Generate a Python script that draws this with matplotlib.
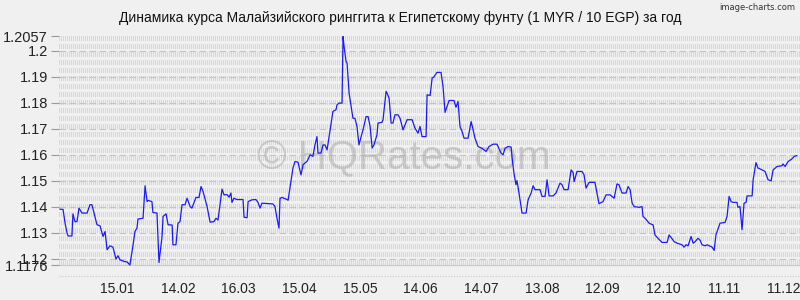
import datetime as dt
import matplotlib
matplotlib.use("Agg")
import matplotlib.pyplot as plt
from matplotlib.collections import LineCollection

# ---------------- data ----------------
start_date = dt.date(2018, 12, 17)
days = [0.5, 2.0, 3.0, 4.0, 4.5, 6.4, 6.9, 7.9, 8.9, 9.9, 11.4, 13.9, 15.3, 16.3, 18.8, 20.3,
        21.8, 22.8, 23.8, 25.2, 26.7, 28.2, 29.2, 30.2, 32.2, 33.7, 35.1, 36.6, 37.6, 38.6,
        39.1, 41.6, 42.6, 43.6, 44.1, 46.0, 46.5, 48.5, 49.5, 51.0, 51.5, 53.0, 54.0, 56.0,
        56.4, 57.9, 58.9, 59.9, 60.9, 62.4, 63.4, 64.9, 65.8, 67.8, 69.3, 70.3, 71.3, 73.3,
        74.8, 76.7, 77.7, 78.7, 80.7, 81.7, 83.2, 84.2, 85.1, 85.6, 86.6, 88.1, 91.1, 91.6,
        93.1, 93.6, 95.5, 97.5, 98.5, 99.5, 100.5, 105.9, 106.9, 107.9, 108.9, 109.4, 110.4,
        112.9, 113.4, 114.9, 115.8, 116.8, 118.3, 119.8, 120.8, 122.8, 124.3, 125.7, 126.7,
        127.7, 128.2, 129.7, 130.7, 131.7, 132.7, 133.2, 134.7, 135.6, 137.1, 137.6, 138.6,
        140.1, 140.6, 141.1, 142.1, 142.6, 143.6, 144.6, 145.5, 146.5, 147.5, 148.5, 150.0,
        150.5, 152.0, 153.0, 154.0, 155.0, 155.9, 157.4, 157.9, 159.9, 160.4, 161.9, 162.4,
        163.4, 164.4, 165.3, 166.3, 167.8, 168.8, 170.3, 172.3, 174.8, 176.2, 177.7, 178.7,
        179.7, 181.7, 182.2, 183.7, 184.7, 185.6, 187.1, 189.1, 190.1, 191.1, 192.1, 193.1,
        195.5, 196.5, 197.5, 198.5, 199.5, 200.5, 202.5, 204.0, 205.0, 205.9, 207.4, 209.4,
        211.4, 212.9, 214.9, 216.8, 218.8, 219.8, 220.8, 222.3, 223.8, 224.3, 225.2, 226.2,
        226.7, 227.7, 229.2, 231.2, 232.2, 233.7, 234.7, 235.6, 238.1, 239.1, 240.6, 241.6,
        242.6, 244.6, 246.0, 248.0, 249.0, 250.0, 252.0, 253.5, 254.5, 255.0, 256.4, 258.9,
        259.9, 260.9, 262.4, 265.3, 266.3, 267.3, 269.3, 270.8, 272.8, 274.8, 276.2, 277.2,
        278.7, 280.7, 281.7, 282.7, 283.7, 284.7, 287.1, 288.6, 289.1, 290.6, 292.1, 294.1,
        295.0, 296.5, 298.5, 301.0, 302.0, 303.5, 304.5, 306.0, 308.4, 309.4, 310.4, 311.4,
        312.9, 313.9, 314.9, 316.3, 317.3, 318.3, 319.8, 320.8, 323.3, 324.3, 325.2, 326.2,
        327.2, 329.7, 330.7, 331.7, 332.7, 333.7, 335.6, 336.1, 337.1, 338.1, 339.1, 340.1,
        340.6, 343.1, 343.6, 345.0, 346.0, 347.0, 348.0, 349.5, 351.0, 352.5, 353.5, 355.4,
        357.9, 358.4, 359.4, 360.9, 362.9, 363.9, 365.3]
rates = [1.1391, 1.1390, 1.1337, 1.1299, 1.1288, 1.1288, 1.1373, 1.1343, 1.1343, 1.1395,
         1.1376, 1.1376, 1.1408, 1.1408, 1.1331, 1.1327, 1.1286, 1.1305, 1.1235, 1.1250,
         1.1245, 1.1199, 1.1212, 1.1196, 1.1190, 1.1188, 1.1176, 1.1250, 1.1305, 1.1318,
         1.1353, 1.1356, 1.1481, 1.1420, 1.1425, 1.1420, 1.1378, 1.1376, 1.1186, 1.1286,
         1.1363, 1.1373, 1.1331, 1.1330, 1.1254, 1.1254, 1.1337, 1.1343, 1.1408, 1.1408,
         1.1433, 1.1401, 1.1395, 1.1436, 1.1436, 1.1478, 1.1459, 1.1401, 1.1341, 1.1343,
         1.1356, 1.1349, 1.1468, 1.1446, 1.1447, 1.1437, 1.1453, 1.1417, 1.1433, 1.1428,
         1.1428, 1.1360, 1.1358, 1.1420, 1.1427, 1.1428, 1.1417, 1.1395, 1.1414, 1.1411,
         1.1401, 1.1356, 1.1318, 1.1433, 1.1436, 1.1428, 1.1425, 1.1504, 1.1549, 1.1574,
         1.1572, 1.1523, 1.1562, 1.1575, 1.1600, 1.1594, 1.1638, 1.1670, 1.1607, 1.1607,
         1.1638, 1.1638, 1.1619, 1.1645, 1.1722, 1.1767, 1.1773, 1.1792, 1.1799, 1.1799,
         1.2055, 1.2017, 1.1959, 1.1952, 1.1837, 1.1786, 1.1741, 1.1740, 1.1709, 1.1638,
         1.1683, 1.1696, 1.1747, 1.1747, 1.1709, 1.1626, 1.1638, 1.1677, 1.1722, 1.1725,
         1.1735, 1.1844, 1.1837, 1.1818, 1.1722, 1.1722, 1.1754, 1.1754, 1.1741, 1.1696,
         1.1735, 1.1735, 1.1703, 1.1683, 1.1709, 1.1670, 1.1670, 1.1831, 1.1828, 1.1895,
         1.1900, 1.1917, 1.1917, 1.1863, 1.1763, 1.1786, 1.1809, 1.1809, 1.1783, 1.1805,
         1.1709, 1.1690, 1.1664, 1.1664, 1.1728, 1.1696, 1.1664, 1.1632, 1.1625, 1.1613,
         1.1632, 1.1641, 1.1641, 1.1607, 1.1600, 1.1625, 1.1632, 1.1630, 1.1587, 1.1530,
         1.1485, 1.1501, 1.1453, 1.1376, 1.1376, 1.1427, 1.1453, 1.1481, 1.1466, 1.1466,
         1.1440, 1.1440, 1.1504, 1.1442, 1.1442, 1.1453, 1.1491, 1.1485, 1.1466, 1.1466,
         1.1542, 1.1532, 1.1497, 1.1536, 1.1536, 1.1523, 1.1472, 1.1494, 1.1494, 1.1453,
         1.1412, 1.1420, 1.1446, 1.1446, 1.1433, 1.1488, 1.1485, 1.1453, 1.1453, 1.1478,
         1.1466, 1.1414, 1.1401, 1.1398, 1.1401, 1.1363, 1.1352, 1.1337, 1.1330, 1.1292,
         1.1279, 1.1263, 1.1263, 1.1292, 1.1277, 1.1266, 1.1260, 1.1254, 1.1245, 1.1254,
         1.1250, 1.1286, 1.1260, 1.1266, 1.1279, 1.1272, 1.1254, 1.1250, 1.1254, 1.1245,
         1.1232, 1.1292, 1.1314, 1.1337, 1.1340, 1.1363, 1.1440, 1.1420, 1.1417, 1.1417,
         1.1398, 1.1401, 1.1312, 1.1414, 1.1417, 1.1442, 1.1442, 1.1504, 1.1570, 1.1549,
         1.1546, 1.1542, 1.1536, 1.1504, 1.1500, 1.1542, 1.1555, 1.1558, 1.1565, 1.1555,
         1.1574, 1.1585, 1.1594, 1.1597]

x_tick_labels = ["15.01", "14.02", "16.03", "15.04", "15.05", "14.06",
                 "14.07", "13.08", "12.09", "12.10", "11.11", "11.12"]
tick_year = 2019
y_ticks = [1.1176, 1.12, 1.13, 1.14, 1.15, 1.16, 1.17, 1.18, 1.19, 1.2, 1.2057]
y_tick_labels = ["1.1176", "1.12", "1.13", "1.14", "1.15", "1.16", "1.17",
                 "1.18", "1.19", "1.2", "1.2057"]

title = "Динамика курса Малайзийского ринггита к Египетскому фунту (1 MYR / 10 EGP) за год"

# ---------------- figure ----------------
W, H, DPI = 800, 300, 100
BG = "#f0f0f0"
plt.rcParams["font.family"] = ["Liberation Sans", "DejaVu Sans"]

fig = plt.figure(figsize=(W / DPI, H / DPI), dpi=DPI, facecolor=BG)
ax_left, ax_right = 59, 800
ax_top, ax_bottom = 36, 276
ax = fig.add_axes([ax_left / W, 1 - ax_bottom / H,
                   (ax_right - ax_left) / W, (ax_bottom - ax_top) / H])
ax.set_facecolor(BG)

y_min, y_max = min(y_ticks), max(y_ticks)
px_per_unit = 2600.0
x_lim_max = 366.8
ax.set_xlim(0, x_lim_max)
ax.set_ylim(y_max - (ax_bottom - ax_top) / px_per_unit, y_max)

for s in ax.spines.values():
    s.set_visible(False)

# textured background: vertical dashed stripes
px_per_day = (ax_right - ax_left) / x_lim_max
step = 2.0 / px_per_day
segs = []
xv = 0.25 / px_per_day
while xv < x_lim_max:
    segs.append([(xv, y_max), (xv, y_min)])
    xv += step
lc = LineCollection(segs, colors="#d6d6d6", linewidths=0.72,
                    linestyles=[(0, (5, 3.6))], antialiaseds=False, zorder=0)
ax.add_collection(lc)

# horizontal grid at y ticks
for yv in y_ticks:
    if yv == y_min:
        ax.axhline(yv, color="#c8c8c8", lw=0.8, zorder=1)
    elif yv == y_max:
        continue
    else:
        ax.axhline(yv, color="#c4c4c4", lw=0.8, ls=(0, (6, 3)), zorder=1)

# bottom dotted axis line
ax.axhline(ax.get_ylim()[0], color="#c8c8c8", lw=0.8, ls=(0, (1, 1.5)), zorder=1,
           clip_on=False)

# watermark
ax.text(0.465, 0.49, "© HQRates.com", transform=ax.transAxes, fontsize=29,
        color="#a8a8a8", alpha=0.5, ha="center", va="center", zorder=1)

# data line
ax.plot(days, rates, color="#1a1aff", lw=0.9, zorder=3)

# ticks
tick_pos = []
for lab in x_tick_labels:
    d, m = lab.split(".")
    tick_pos.append((dt.date(tick_year, int(m), int(d)) - start_date).days)
ax.set_xticks(tick_pos)
ax.set_xticklabels(x_tick_labels)
ax.tick_params(axis="x", length=0, pad=4, labelsize=10, labelcolor="#222222")
ax.set_yticks(y_ticks)
ax.set_yticklabels(y_tick_labels)
ax.tick_params(axis="y", length=6, width=0.8, color="#999999", pad=2,
               labelsize=10.5, labelcolor="#222222")

fig.text(0.5, 1 - 18 / H, title, ha="center", va="center", fontsize=10,
         color="#111111")
fig.text(0.994, 1 - 8 / H, "image-charts.com", ha="right", va="center",
         fontsize=6, color="#333333",
         family=["Liberation Sans Narrow", "DejaVu Sans"])

fig.savefig("out.png", dpi=DPI, facecolor=BG)
